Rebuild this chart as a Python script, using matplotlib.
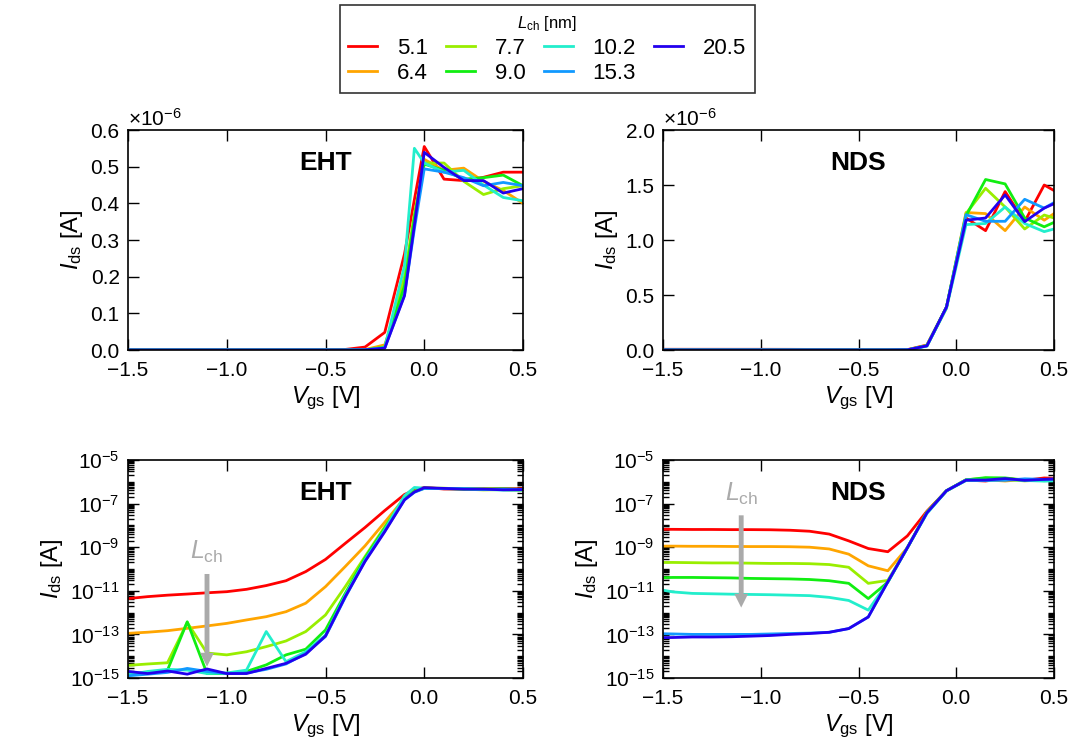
import numpy as np
import matplotlib.pyplot as plt
from matplotlib.ticker import (FixedLocator, LogLocator, LogFormatterMathtext, NullFormatter,
                               ScalarFormatter)

plt.rcParams['font.family'] = ['Liberation Sans', 'DejaVu Sans']
plt.rcParams['mathtext.fontset'] = 'custom'
plt.rcParams['mathtext.rm'] = 'Liberation Sans'
plt.rcParams['mathtext.it'] = 'Liberation Sans:italic'
plt.rcParams['mathtext.bf'] = 'Liberation Sans:bold'
plt.rcParams['axes.linewidth'] = 1.2

# channel lengths [nm] and colours
L_ch = ['5.1', '6.4', '7.7', '9.0', '10.2', '15.3', '20.5']
cores = ['#ff0000', '#ffa500', '#99ee00', '#11ee11', '#22eecc', '#1199ff', '#2200ee']

# EHT: gate voltage grid [V] and drain current [A]
vgs_eht = [-1.5, -1.4, -1.3, -1.2, -1.1, -1.0, -0.9, -0.8, -0.7, -0.6, -0.5, -0.4,
           -0.3, -0.2, -0.1, -0.05, 0.0, 0.1, 0.2, 0.3, 0.4, 0.5]
ids_eht_51 = [4.4e-12, 5.4e-12, 6.3e-12, 7.1e-12, 8.1e-12, 9.1e-12, 1.17e-11, 1.74e-11, 2.9e-11,
              7.6e-11, 2.75e-10, 1.5e-9, 8e-9, 4.8e-8, 2.62e-7, 4.1e-7, 5.55e-7, 4.66e-7,
              4.62e-7, 4.71e-7, 4.85e-7, 4.85e-7]
ids_eht_64 = [1.12e-13, 1.26e-13, 1.48e-13, 1.9e-13, 2.45e-13, 3.2e-13, 4.6e-13, 6.5e-13, 1.1e-12,
              2.7e-12, 1.55e-11, 1.3e-10, 1.15e-9, 1.4e-8, 1.75e-7, 3.6e-7, 5.2e-7, 4.9e-7,
              4.96e-7, 4.6e-7, 4.35e-7, 4.0e-7]
ids_eht_77 = [3.8e-15, 4.4e-15, 5.0e-15, 3.5e-13, 1.4e-14, 1.15e-14, 1.6e-14, 2.75e-14, 5.0e-14,
              1.35e-13, 7.8e-13, 1.55e-11, 3.7e-10, 8.7e-9, 2.0e-7, 3.7e-7, 5.1e-7, 5.1e-7,
              4.6e-7, 4.24e-7, 4.4e-7, 4.48e-7]
ids_eht_90 = [1.6e-15, 1.7e-15, 2.3e-15, 3.8e-13, 1.6e-15, 1.6e-15, 2.0e-15, 4.0e-15, 1.15e-14,
              2.1e-14, 1.6e-13, 7.6e-12, 3.2e-10, 7.4e-9, 1.75e-7, 3.6e-7, 5.07e-7, 4.9e-7,
              4.66e-7, 4.7e-7, 4.77e-7, 4.48e-7]
ids_eht_102 = [1.4e-15, 2.0e-15, 2.5e-15, 2.3e-15, 1.6e-15, 1.7e-15, 2.3e-15, 1.35e-13, 5.6e-15,
               1.6e-14, 9.3e-14, 6.3e-12, 2.6e-10, 6.3e-9, 2.3e-7, 5.5e-7, 5.1e-7, 4.85e-7,
               4.9e-7, 4.5e-7, 4.16e-7, 4.07e-7]
ids_eht_153 = [1.26e-15, 1.5e-15, 1.8e-15, 2.75e-15, 2.0e-15, 1.6e-15, 1.7e-15, 2.5e-15, 4.4e-15,
               1.35e-14, 8e-14, 5e-12, 2.4e-10, 5.6e-9, 1.5e-7, 3.3e-7, 4.94e-7, 4.85e-7,
               4.7e-7, 4.48e-7, 4.57e-7, 4.48e-7]
ids_eht_205 = [2.0e-15, 1.6e-15, 2.1e-15, 1.5e-15, 2.6e-15, 1.6e-15, 1.6e-15, 2.75e-15, 4.7e-15,
               1.23e-14, 8.5e-14, 5.4e-12, 2.2e-10, 5.1e-9, 1.48e-7, 3.4e-7, 5.39e-7, 4.98e-7,
               4.62e-7, 4.62e-7, 4.28e-7, 4.4e-7]

# NDS: gate voltage grid [V] and drain current [A]
vgs_nds = [-1.5, -1.45, -1.35, -1.25, -1.15, -1.05, -0.95, -0.85, -0.75, -0.65, -0.55, -0.45,
           -0.35, -0.25, -0.15, -0.05, 0.05, 0.15, 0.25, 0.35, 0.45, 0.5]
ids_nds_51 = [6.6e-9, 6.6e-9, 6.5e-9, 6.5e-9, 6.4e-9, 6.4e-9, 6.3e-9, 6.0e-9, 5.4e-9, 4.0e-9,
              1.95e-9, 8.7e-10, 6.2e-10, 3.3e-9, 4.5e-8, 3.9e-7, 1.20e-6, 1.085e-6, 1.44e-6,
              1.167e-6, 1.50e-6, 1.45e-6]
ids_nds_64 = [1.12e-9, 1.12e-9, 1.1e-9, 1.1e-9, 1.08e-9, 1.07e-9, 1.07e-9, 1.05e-9, 1.0e-9,
              8.3e-10, 4.8e-10, 1.4e-10, 8.3e-11, 9.5e-10, 4.2e-8, 3.8e-7, 1.25e-6, 1.24e-6,
              1.085e-6, 1.30e-6, 1.18e-6, 1.24e-6]
ids_nds_77 = [2.0e-10, 2.0e-10, 1.95e-10, 1.9e-10, 1.9e-10, 1.85e-10, 1.8e-10, 1.8e-10, 1.75e-10,
              1.6e-10, 1.2e-10, 2.2e-11, 3.0e-11, 9.5e-10, 4.0e-8, 3.9e-7, 1.24e-6, 1.47e-6,
              1.30e-6, 1.10e-6, 1.227e-6, 1.20e-6]
ids_nds_90 = [4.0e-11, 4.1e-11, 4.1e-11, 4.0e-11, 3.9e-11, 3.7e-11, 3.6e-11, 3.5e-11, 3.3e-11,
              2.9e-11, 2.2e-11, 4.4e-12, 2.5e-11, 9.5e-10, 4.0e-8, 3.9e-7, 1.22e-6, 1.55e-6,
              1.51e-6, 1.20e-6, 1.12e-6, 1.16e-6]
ids_nds_102 = [1.07e-11, 8.9e-12, 7.6e-12, 7.3e-12, 7.0e-12, 6.8e-12, 6.6e-12, 6.3e-12, 6.0e-12,
               5.0e-12, 3.6e-12, 1.3e-12, 2.5e-11, 9.5e-10, 3.5e-8, 3.8e-7, 1.14e-6, 1.15e-6,
               1.30e-6, 1.15e-6, 1.076e-6, 1.10e-6]
ids_nds_153 = [1.07e-13, 1.05e-13, 1.0e-13, 1.0e-13, 1.0e-13, 1.0e-13, 1.05e-13, 1.1e-13, 1.15e-13,
               1.25e-13, 1.85e-13, 6.3e-13, 2.6e-11, 9.5e-10, 3.8e-8, 3.9e-7, 1.23e-6, 1.17e-6,
               1.17e-6, 1.37e-6, 1.29e-6, 1.34e-6]
ids_nds_205 = [7.1e-14, 7.2e-14, 7.6e-14, 7.6e-14, 7.8e-14, 8.3e-14, 8.9e-14, 1.0e-13, 1.1e-13,
               1.25e-13, 1.85e-13, 6.3e-13, 2.6e-11, 9.5e-10, 3.8e-8, 3.9e-7, 1.18e-6, 1.20e-6,
               1.41e-6, 1.167e-6, 1.29e-6, 1.33e-6]

eht = [ids_eht_51, ids_eht_64, ids_eht_77, ids_eht_90, ids_eht_102, ids_eht_153, ids_eht_205]
nds = [ids_nds_51, ids_nds_64, ids_nds_77, ids_nds_90, ids_nds_102, ids_nds_153, ids_nds_205]


class Micro(ScalarFormatter):
    # ordem de grandeza fixa em 1e-6, uma casa decimal
    def _set_order_of_magnitude(self):
        self.orderOfMagnitude = -6

    def _set_format(self):
        self.format = '%1.1f'


fig = plt.figure(figsize=(10.77, 7.56), dpi=100)
W, H = 1077.0, 756.0

def caixa(x0, x1, y0, y1):
    # posição em pixeis -> fracção da figura
    return fig.add_axes([x0 / W, 1 - y1 / H, (x1 - x0) / W, (y1 - y0) / H])

ax_tl = caixa(128, 523, 130, 350)
ax_tr = caixa(663, 1054, 130, 350)
ax_bl = caixa(128, 523, 460, 678)
ax_br = caixa(663, 1054, 460, 678)

for ax, vgs, dados, nome, logy in [(ax_tl, vgs_eht, eht, 'EHT', False),
                                   (ax_tr, vgs_nds, nds, 'NDS', False),
                                   (ax_bl, vgs_eht, eht, 'EHT', True),
                                   (ax_br, vgs_nds, nds, 'NDS', True)]:
    for ids, c, lab in zip(dados, cores, L_ch):
        ax.plot(vgs, ids, '-', color=c, lw=2, label=lab)
    ax.set_xlim(-1.5, 0.5)
    ax.set_xticks([-1.5, -1.0, -0.5, 0.0, 0.5])
    ax.set_xlabel(r'$V_{\rm gs}$ [V]', fontsize=17, labelpad=3)
    ax.set_ylabel(r'$I_{\rm ds}$ [A]', fontsize=17)
    ax.tick_params(which='both', direction='in', top=True, right=True, labelsize=15, width=1)
    ax.tick_params(which='major', length=8)
    ax.tick_params(axis='x', which='major', pad=8)
    ax.tick_params(axis='y', which='major', pad=6)
    ax.tick_params(which='minor', length=4)
    ax.text(0.5, 0.85, nome, transform=ax.transAxes, ha='center', va='center',
            fontsize=19, fontweight='bold')
    if logy:
        ax.set_yscale('log')
        ax.set_ylim(1e-15, 1e-5)
        ax.yaxis.set_major_locator(FixedLocator([1e-15, 1e-13, 1e-11, 1e-9, 1e-7, 1e-5]))
        ax.yaxis.set_major_formatter(LogFormatterMathtext())
        ax.yaxis.set_minor_locator(LogLocator(base=10, subs=np.arange(1, 10), numticks=100))
        ax.yaxis.set_minor_formatter(NullFormatter())
    else:
        ax.yaxis.set_major_formatter(Micro(useMathText=True))
        ax.yaxis.get_offset_text().set_fontsize(15)

ax_tl.set_ylim(0, 0.6e-6)
ax_tl.set_yticks(np.array([0, 0.1, 0.2, 0.3, 0.4, 0.5, 0.6]) * 1e-6)
ax_tr.set_ylim(0, 2.0e-6)
ax_tr.set_yticks(np.array([0, 0.5, 1.0, 1.5, 2.0]) * 1e-6)

# setas L_ch
seta = dict(facecolor='#aaaaaa', edgecolor='none', width=3.5, headwidth=10, headlength=10, shrink=0)
ax_bl.annotate('', xy=(-1.1, 3.3e-15), xytext=(-1.1, 5.9e-11), arrowprops=seta)
ax_bl.text(-1.1, 6.3e-10, r'$L_{\rm ch}$', color='#aaaaaa', fontsize=18, ha='center', va='center')
ax_br.annotate('', xy=(-1.1, 1.7e-12), xytext=(-1.1, 2.9e-8), arrowprops=seta)
ax_br.text(-1.1, 2.9e-7, r'$L_{\rm ch}$', color='#aaaaaa', fontsize=18, ha='center', va='center')

h, l = ax_tl.get_legend_handles_labels()
leg = fig.legend(h, l, loc='upper center', bbox_to_anchor=(0.508, 0.993), ncol=4,
                 title=r'$L_{\rm ch}$ [nm]', title_fontsize=12, fontsize=16,
                 frameon=True, fancybox=False, edgecolor='black', handlelength=1.3,
                 handletextpad=0.9, columnspacing=0.8, labelspacing=0.2, borderpad=0.4,
                 borderaxespad=0)
leg.get_frame().set_linewidth(1.2)

fig.savefig('out.png', dpi=100)
